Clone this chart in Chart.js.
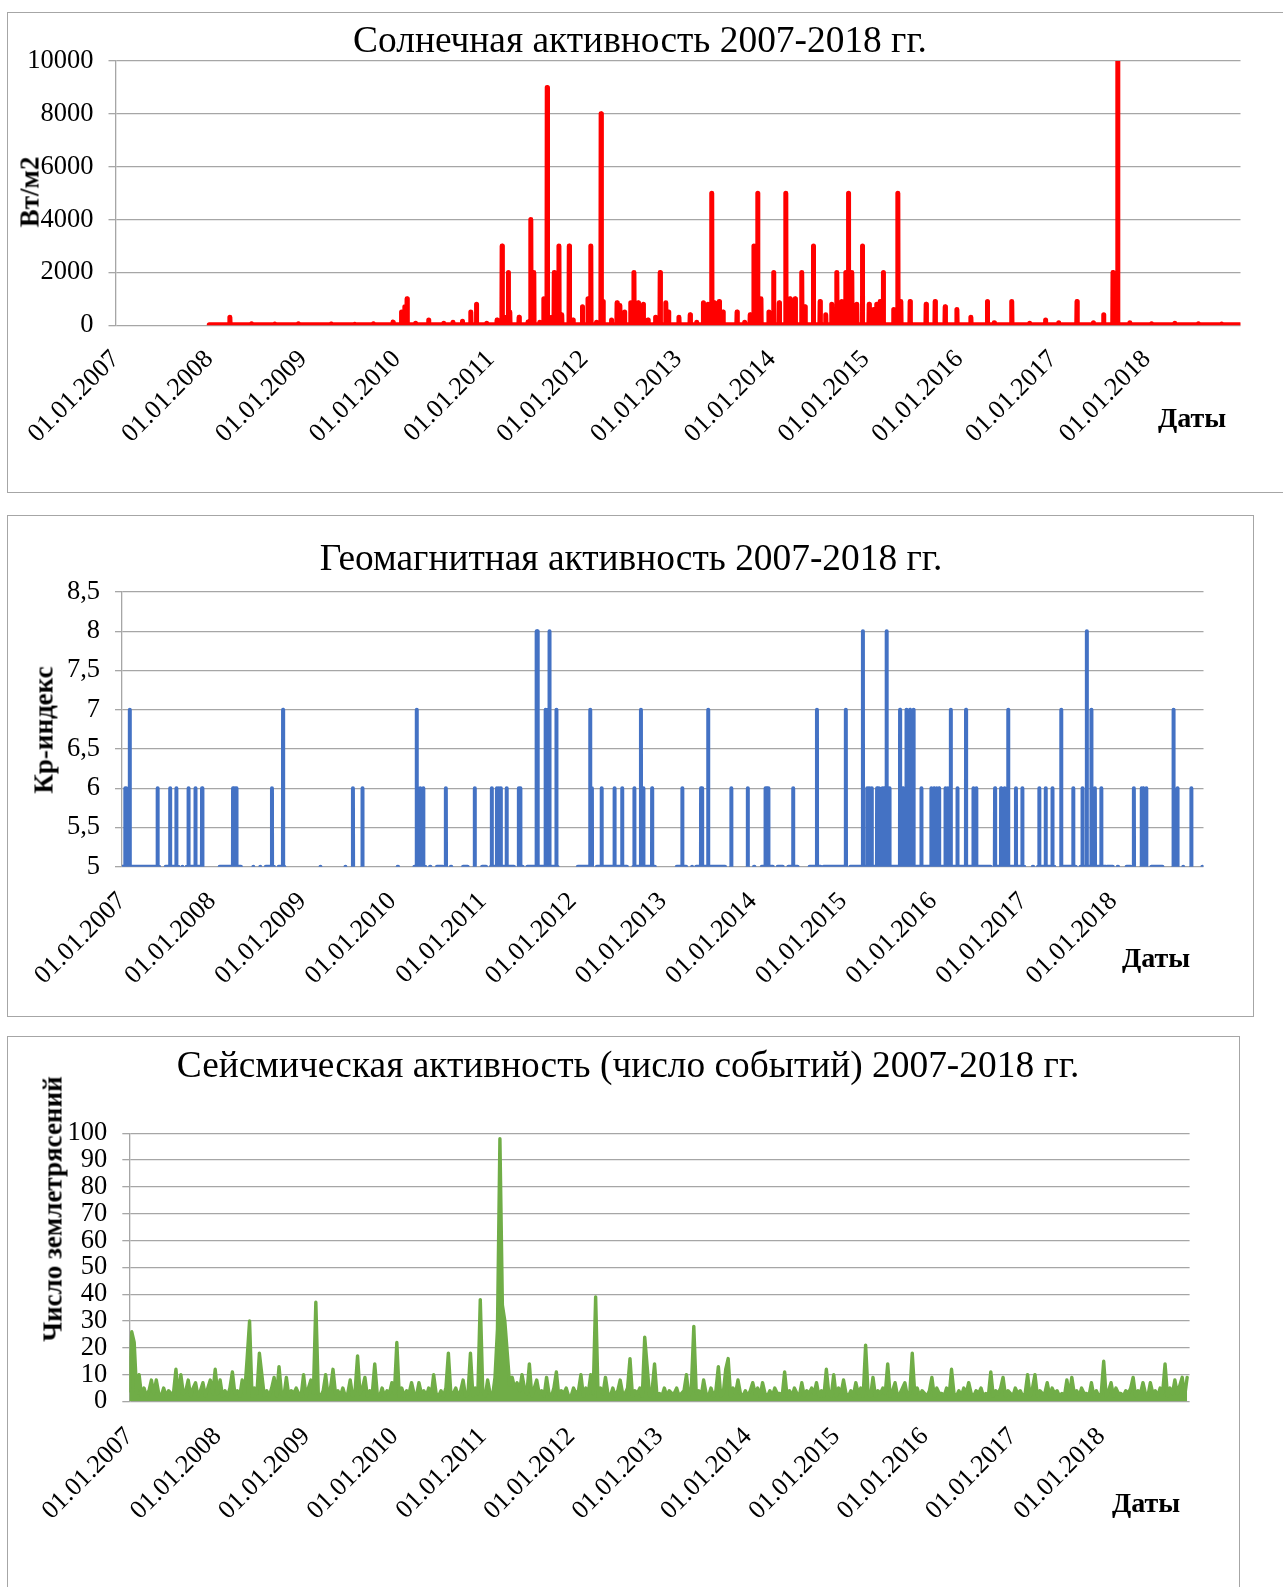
<!DOCTYPE html>
<html lang="ru">
<head>
<meta charset="utf-8">
<title>Солнечная, геомагнитная и сейсмическая активность 2007-2018 гг.</title>
<script src="https://cdn.jsdelivr.net/npm/chart.js@4.4.1/dist/chart.umd.min.js"></script>
<style>
  html, body { margin: 0; padding: 0; background: #fff; }
  body { width: 1283px; height: 1587px; position: relative; overflow: hidden;
         font-family: 'Liberation Serif', 'Times New Roman', serif; color: #000; }
  .box { position: absolute; border: 1px solid #a6a6a6; box-sizing: border-box; }
  canvas { position: absolute; }
  .title { position: absolute; white-space: nowrap; line-height: 1; font-size: 37.4px; transform: translateX(-50%); }
  .ytitle { position: absolute; white-space: nowrap; line-height: 1; font-size: 27px; font-weight: bold;
            transform: translate(-50%, -50%) rotate(-90deg); }
  .xtitle { position: absolute; white-space: nowrap; line-height: 1; font-size: 28px; font-weight: bold;
            transform: translate(-50%, -50%); }
</style>
</head>
<body>

<div class="box" style="left:7px;top:12px;width:1300px;height:481px"></div>
<div class="box" style="left:7px;top:515px;width:1247px;height:502px"></div>
<div class="box" style="left:7px;top:1036px;width:1233px;height:620px"></div>

<canvas id="solar" width="1266" height="481" style="left:7px;top:12px"></canvas>
<canvas id="kp" width="1247" height="502" style="left:7px;top:515px"></canvas>
<canvas id="seismic" width="1233" height="551" style="left:7px;top:1036px"></canvas>

<div class="title" style="left:640px;top:20.5px">Солнечная активность 2007-2018 гг.</div>
<div class="ytitle" style="left:30px;top:192px">Вт/м2</div>
<div class="xtitle" style="left:1192px;top:418px">Даты</div>

<div class="title" style="left:631px;top:538.5px">Геомагнитная активность 2007-2018 гг.</div>
<div class="ytitle" style="left:44px;top:730px">Кр-индекс</div>
<div class="xtitle" style="left:1156px;top:958px">Даты</div>

<div class="title" style="left:628px;top:1045.5px">Сейсмическая активность (число событий) 2007-2018 гг.</div>
<div class="ytitle" style="left:53px;top:1209px">Число землетрясений</div>
<div class="xtitle" style="left:1146px;top:1503px">Даты</div>

<script>
// ---------- Solar flux: background level plus dated flare peaks (decimal years, W/m2) ----------
const solarStart = 2008.0;
const solarEnd = 2018.995;
const solarBackground = 20;
const solarYears = [
  2008.22, 2008.45, 2008.70, 2008.95, 2009.30, 2009.55, 2009.75, 2009.96,
  2010.05, 2010.085, 2010.11, 2010.20, 2010.34, 2010.50, 2010.60, 2010.70, 2010.79, 2010.85, 2010.96,
  2011.07, 2011.124, 2011.153, 2011.19, 2011.206, 2011.305, 2011.40, 2011.43, 2011.462, 2011.526,
  2011.569, 2011.605, 2011.65, 2011.68, 2011.73, 2011.76, 2011.84, 2011.88, 2011.98,
  2012.04, 2012.07, 2012.13, 2012.18, 2012.20, 2012.29, 2012.35, 2012.38, 2012.43, 2012.495,
  2012.53, 2012.576, 2012.63, 2012.68, 2012.76, 2012.81, 2012.87, 2012.90,
  2013.01, 2013.13, 2013.20, 2013.27, 2013.32, 2013.36, 2013.39, 2013.44, 2013.48, 2013.63,
  2013.71, 2013.77, 2013.81, 2013.85, 2013.885, 2013.97,
  2014.02, 2014.08, 2014.15, 2014.195, 2014.25, 2014.32, 2014.355, 2014.444, 2014.516, 2014.576,
  2014.64, 2014.694, 2014.747, 2014.79, 2014.818, 2014.854, 2014.907, 2014.967,
  2015.039, 2015.085, 2015.12, 2015.156, 2015.19, 2015.30, 2015.345, 2015.377, 2015.476,
  2015.647, 2015.743, 2015.85, 2015.975,
  2016.124, 2016.30, 2016.373, 2016.56, 2016.75, 2016.92,
  2017.06, 2017.256, 2017.43, 2017.54, 2017.64, 2017.69, 2017.82,
  2018.05, 2018.30, 2018.55, 2018.80
];
const solarFlux = [
  300, 60, 50, 60, 50, 40, 60, 120,
  500, 700, 1000, 80, 200, 80, 120, 150, 500, 800, 80,
  200, 3000, 300, 2000, 500, 300, 120, 4000, 2000, 120,
  1000, 9000, 300, 2000, 3000, 400, 3000, 200, 700,
  1000, 3000, 120, 8000, 900, 200, 850, 750, 500, 850,
  2000, 850, 800, 200, 300, 2000, 850, 500,
  300, 400, 120, 850, 800, 5000, 850, 900, 500, 500,
  120, 400, 3000, 5000, 1000, 500,
  2000, 850, 5000, 1000, 1000, 2000, 700, 3000, 900, 400,
  800, 2000, 900, 2000, 5000, 2000, 800, 3000,
  800, 600, 800, 900, 2000, 600, 5000, 900, 900,
  800, 900, 700, 600,
  300, 900, 100, 900, 80, 200,
  100, 900, 100, 400, 2000, 10000, 100,
  60, 80, 60, 50
];

// ---------- Kp index: stretches of days with Kp >= 5, and the storm peaks ----------
const kpRuns = [
  [2007.005, 2007.410], [2007.487, 2007.623], [2007.673, 2007.673], [2007.720, 2007.893],
  [2008.086, 2008.317], [2008.460, 2008.460], [2008.537, 2008.537], [2008.598, 2008.683], [2008.741, 2008.799],
  [2009.205, 2009.205], [2009.482, 2009.482],
  [2010.061, 2010.061], [2010.247, 2010.362], [2010.420, 2010.420], [2010.497, 2010.555],
  [2010.651, 2010.651], [2010.787, 2010.833],
  [2010.998, 2011.037], [2011.095, 2011.346], [2011.404, 2011.443], [2011.500, 2011.830],
  [2012.060, 2012.214], [2012.271, 2012.600], [2012.677, 2012.910],
  [2013.158, 2013.257], [2013.328, 2013.328], [2013.374, 2013.689],
  [2014.015, 2014.015], [2014.101, 2014.219], [2014.278, 2014.329], [2014.396, 2014.494],
  [2014.632, 2014.749], [2014.788, 2015.005],
  [2015.083, 2016.636], [2016.687, 2017.009],
  [2017.108, 2017.108], [2017.166, 2017.343], [2017.422, 2017.579], [2017.638, 2017.914], [2017.933, 2017.991],
  [2018.050, 2018.050], [2018.149, 2018.188], [2018.424, 2018.542], [2018.668, 2018.711],
  [2018.778, 2018.778], [2018.990, 2018.990]
];
const kpDates = [
  2007.036, 2007.046, 2007.086, 2007.395, 2007.534, 2007.603, 2007.738, 2007.815, 2007.888,
  2008.232, 2008.252, 2008.270, 2008.664, 2008.787,
  2009.563, 2009.668,
  2010.270, 2010.308, 2010.343, 2010.594, 2010.914,
  2011.103, 2011.160, 2011.182, 2011.203, 2011.268, 2011.404, 2011.420, 2011.600, 2011.612,
  2011.700, 2011.722, 2011.743, 2011.820,
  2012.195, 2012.214, 2012.322, 2012.465, 2012.550, 2012.685, 2012.758, 2012.785, 2012.882,
  2013.217, 2013.425, 2013.437, 2013.504, 2013.760, 2013.944,
  2014.140, 2014.158, 2014.172, 2014.447, 2014.711,
  2015.032, 2015.221, 2015.268, 2015.282, 2015.295, 2015.319, 2015.378, 2015.398, 2015.437, 2015.450,
  2015.461, 2015.484, 2015.516, 2015.633, 2015.666, 2015.704, 2015.744, 2015.783, 2015.870, 2015.980,
  2016.010, 2016.039, 2016.066, 2016.137, 2016.164, 2016.196, 2016.270, 2016.365, 2016.447, 2016.479,
  2016.687, 2016.754, 2016.793, 2016.833, 2016.919, 2016.990,
  2017.178, 2017.249, 2017.324, 2017.422, 2017.555, 2017.657, 2017.705, 2017.756, 2017.795, 2017.866,
  2018.228, 2018.314, 2018.330, 2018.365, 2018.668, 2018.711, 2018.865
];
const kpValues = [
  6, 6, 7, 6, 6, 6, 6, 6, 6,
  6, 6, 6, 6, 7,
  6, 6,
  7, 6, 6, 6, 6,
  6, 6, 6, 6, 6, 6, 6, 8, 8,
  7, 7, 8, 7,
  7, 6, 6, 6, 6, 6, 7, 6, 6,
  6, 6, 6, 7, 6, 6,
  6, 6, 6, 6, 7,
  7, 8, 6, 6, 6, 6, 6, 6, 6, 6,
  6, 8, 6, 7, 6, 7, 7, 7, 6, 6,
  6, 6, 6, 6, 6, 7, 6, 7, 6, 6,
  6, 6, 6, 7, 6, 6,
  6, 6, 6, 7, 6, 6, 8, 7, 6, 6,
  6, 6, 6, 6, 7, 6, 6
];
const kpQuiet = 5;

// ---------- Earthquake counts: 36 readings per year (about every 10 days) ----------
const seis2007 = [4,26,22,3,10,2,5,2,4,8,3,8,3,2,5,2,4,3,3,12,2,10,3,4,8,2,5,7,2,4,7,2,5,8,3,12];
const seis2008 = [3,8,2,4,2,5,11,3,4,2,8,3,16,30,2,5,3,18,10,2,4,2,5,9,2,13,3,2,9,2,4,3,5,3,2,10];
const seis2009 = [2,5,8,3,37,3,2,4,10,2,5,12,3,4,2,5,2,3,8,2,4,17,3,5,9,2,4,3,14,3,2,5,2,4,3,7];
const seis2010 = [3,22,2,5,2,4,3,7,3,2,7,3,4,2,5,2,10,3,2,4,2,5,18,3,3,5,2,4,8,2,3,18,2,5,3,38];
const seis2011 = [4,2,8,3,2,9,27,98,36,30,18,6,9,5,7,4,10,5,3,14,2,5,8,3,4,2,9,3,2,5,11,2,4,3,5,2];
const seis2012 = [2,5,3,4,10,2,5,3,10,3,39,2,5,3,9,3,2,5,2,4,8,3,3,5,16,2,4,3,5,2,24,13,2,4,14,2];
const seis2013 = [3,2,5,2,4,3,3,5,2,3,4,10,2,5,28,3,4,2,8,3,2,5,2,4,13,2,3,12,16,2,5,3,8,3,2,4];
const seis2014 = [2,4,7,3,5,2,7,3,2,4,2,5,3,3,2,11,2,4,2,5,3,2,7,2,4,3,5,3,7,2,4,2,12,3,2,10];
const seis2015 = [2,5,3,8,3,2,4,2,7,3,5,2,21,3,2,9,2,4,3,5,3,14,2,4,7,2,3,5,7,2,3,18,3,5,2,4];
const seis2016 = [3,2,4,9,2,5,3,3,2,5,2,12,3,2,4,2,5,3,7,3,2,4,3,5,2,3,2,11,2,4,3,5,9,2,4,3];
const seis2017 = [2,5,3,4,2,3,10,2,5,10,2,4,3,3,7,2,5,3,4,2,3,2,8,2,9,3,4,2,5,3,3,2,7,2,4,2];
const seis2018 = [3,15,2,4,7,2,5,3,3,2,4,3,5,9,2,4,3,7,3,2,7,3,4,2,5,3,14,2,5,3,8,3,6,9,2,9];
const seismicYears = [2007, 2008, 2009, 2010, 2011, 2012, 2013, 2014, 2015, 2016, 2017, 2018];
const seismicByYear = [seis2007, seis2008, seis2009, seis2010, seis2011, seis2012,
                       seis2013, seis2014, seis2015, seis2016, seis2017, seis2018];

// ---------- Axis ticks ----------
const yearTicks = [2007, 2008, 2009, 2010, 2011, 2012, 2013, 2014, 2015, 2016, 2017, 2018];
const solarTicks = { min: 0, max: 10000, step: 2000 };
const kpTicks = { min: 5, max: 8.5, step: 0.5 };
const seismicTicks = { min: 0, max: 100, step: 10 };

// ---------- Series assembly ----------
const DAY = 1 / 365;

// daily flux: background everywhere except the listed flare days
function solarSeries() {
  const pts = [{ x: solarStart, y: solarBackground }];
  solarYears.forEach((t, i) => {
    pts.push({ x: t - DAY, y: solarBackground }, { x: t, y: solarFlux[i] }, { x: t + DAY, y: solarBackground });
  });
  pts.push({ x: solarEnd, y: solarBackground });
  return pts.sort((a, b) => a.x - b.x);
}

// Kp: each stretch is a connected run at the quiet level, storm days rise out of it; gaps between stretches
function kpSeries() {
  const runs = kpRuns.map(r => ({ a: r[0], b: r[1], peaks: [] }));
  kpDates.forEach((t, i) => {
    let run = runs.find(r => t >= r.a - 0.004 && t <= r.b + 0.004);
    if (!run) { run = { a: t, b: t, peaks: [] }; runs.push(run); }
    run.peaks.push([t, kpValues[i]]);
  });
  runs.sort((p, q) => p.a - q.a);
  const pts = [];
  runs.forEach(r => {
    const seg = [{ x: r.a - DAY, y: kpQuiet }, { x: r.b + DAY, y: kpQuiet }];
    r.peaks.forEach(([t, v]) => seg.push({ x: t - DAY / 2, y: kpQuiet }, { x: t, y: v }, { x: t + DAY / 2, y: kpQuiet }));
    seg.sort((p, q) => p.x - q.x);
    pts.push(...seg, { x: r.b + 2 * DAY, y: null });
  });
  return pts;
}

function seismicSeries() {
  const pts = [];
  seismicByYear.forEach((arr, k) => {
    arr.forEach((v, i) => pts.push({ x: seismicYears[k] + i / 36, y: v }));
  });
  return pts;
}

// ---------- Charts ----------
Chart.defaults.font.family = "'Liberation Serif', 'Times New Roman', serif";
Chart.defaults.color = '#000';

const GRID = '#a6a6a6';

function makeChart(id, geo, points, color, lineWidth, yt, fmt, fillBand) {
  return new Chart(document.getElementById(id), {
    type: 'line',
    data: {
      datasets: [{
        data: points,
        borderColor: color,
        backgroundColor: color,
        borderWidth: lineWidth,
        pointRadius: 0,
        pointHoverRadius: 0,
        tension: 0,
        spanGaps: false,
        fill: fillBand ? 'origin' : false,
        borderCapStyle: 'round',
        borderJoinStyle: 'round'
      }]
    },
    options: {
      responsive: false,
      animation: false,
      devicePixelRatio: 1,
      events: [],
      layout: { padding: { left: 0, top: geo.top, right: geo.right, bottom: 0 } },
      plugins: { legend: { display: false }, title: { display: false }, tooltip: { enabled: false } },
      scales: {
        x: {
          type: 'linear',
          min: yearTicks[0],
          max: yearTicks[yearTicks.length - 1] + 1,
          grid: { display: false, drawTicks: false },
          border: { display: false },
          afterBuildTicks: s => { s.ticks = yearTicks.map(v => ({ value: v })); },
          ticks: {
            autoSkip: false,
            minRotation: 45,
            maxRotation: 45,
            padding: geo.xpad,
            color: '#000',
            font: { size: 26 },
            callback: v => '01.01.' + v
          },
          afterFit: s => { s.height = geo.xh; }
        },
        y: {
          min: yt.min,
          max: yt.max,
          grid: { color: GRID, lineWidth: 1.3, tickLength: 7, drawTicks: true },
          border: { display: true, color: GRID, width: 1.3 },
          ticks: { stepSize: yt.step, autoSkip: false, padding: 15, color: '#000', font: { size: 26.5 }, callback: fmt },
          afterFit: s => { s.width = geo.yw; }
        }
      }
    }
  });
}

makeChart('solar', { top: 49, right: 32.5, yw: 108.5, xh: 167.7, xpad: 19 },
  solarSeries(), '#ff0000', 5, solarTicks, v => String(v), false);

makeChart('kp', { top: 77, right: 50.5, yw: 115, xh: 150.3, xpad: 19.5 },
  kpSeries(), '#4472c4', 4, kpTicks, v => String(v).replace('.', ','), false);

makeChart('seismic', { top: 97.3, right: 50.4, yw: 122.3, xh: 185.5, xpad: 20 },
  seismicSeries(), '#70ad47', 3.4, seismicTicks, v => String(v), true);
</script>
</body>
</html>
